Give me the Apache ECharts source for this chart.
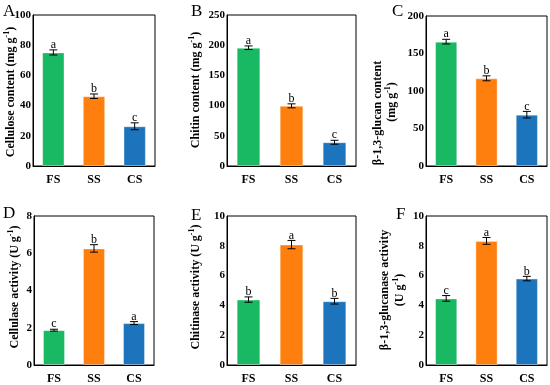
<!DOCTYPE html>
<html><head><meta charset="utf-8">
<script src="https://cdn.jsdelivr.net/npm/echarts@6/dist/echarts.min.js"></script>
<style>html,body{margin:0;padding:0;background:#fff}#c{width:550px;height:385px}</style>
</head><body><div id="c"></div>
<script>
var categories = ['FS', 'SS', 'CS'];
var barColors = ['#19b862', '#ff7f0e', '#1c75bc'];

var celluloseContent = [75.2, 46.2, 26.3];
var celluloseContentErr = [1.7, 1.5, 2.3];
var celluloseContentLetters = ['a', 'b', 'c'];

var chitinContent = [195.8, 99.6, 39.3];
var chitinContentErr = [3, 3.3, 3.3];
var chitinContentLetters = ['a', 'b', 'c'];

var glucanContent = [165.8, 116.9, 68.4];
var glucanContentErr = [3.1, 3.3, 4.4];
var glucanContentLetters = ['a', 'b', 'c'];

var cellulaseActivity = [1.87, 6.26, 2.25];
var cellulaseActivityErr = [0.05, 0.2, 0.08];
var cellulaseActivityLetters = ['c', 'b', 'a'];

var chitinaseActivity = [4.39, 8.08, 4.28];
var chitinaseActivityErr = [0.18, 0.28, 0.19];
var chitinaseActivityLetters = ['b', 'a', 'b'];

var glucanaseActivity = [4.47, 8.33, 5.8];
var glucanaseActivityErr = [0.19, 0.23, 0.15];
var glucanaseActivityLetters = ['c', 'a', 'b'];

var yMax = [100, 250, 200, 8, 10, 10];
var yInterval = [20, 50, 50, 2, 2, 2];

var panels = [
  {v: celluloseContent, e: celluloseContentErr, l: celluloseContentLetters},
  {v: chitinContent, e: chitinContentErr, l: chitinContentLetters},
  {v: glucanContent, e: glucanContentErr, l: glucanContentLetters},
  {v: cellulaseActivity, e: cellulaseActivityErr, l: cellulaseActivityLetters},
  {v: chitinaseActivity, e: chitinaseActivityErr, l: chitinaseActivityLetters},
  {v: glucanaseActivity, e: glucanaseActivityErr, l: glucanaseActivityLetters}
];

var gridPos = [
  {left: 33, top: 15, width: 122, height: 151},
  {left: 227, top: 15, width: 129, height: 151},
  {left: 426, top: 16, width: 121, height: 150},
  {left: 34, top: 216, width: 120, height: 150},
  {left: 227, top: 216, width: 129, height: 151},
  {left: 426, top: 216, width: 121, height: 150}
];

var FONT = 'Liberation Serif';

var grids = [], xAxes = [], yAxes = [], series = [];
panels.forEach(function (p, i) {
  var g = gridPos[i];
  grids.push({left: g.left, top: g.top, width: g.width, height: g.height,
    show: true, borderColor: '#000', borderWidth: 1, backgroundColor: 'transparent'});
  xAxes.push({type: 'category', gridIndex: i, data: categories,
    axisLine: {show: true, lineStyle: {color: '#000', width: 1}},
    axisTick: {show: false},
    axisLabel: {color: '#000', fontFamily: FONT, fontWeight: 'bold', fontSize: 12, margin: 8}});
  yAxes.push({type: 'value', gridIndex: i, min: 0, max: yMax[i], interval: yInterval[i],
    splitLine: {show: false},
    axisLine: {show: true, lineStyle: {color: '#000', width: 1}},
    axisTick: {show: false},
    axisLabel: {color: '#000', fontFamily: FONT, fontWeight: 'bold', fontSize: 11, margin: 2}});
  series.push({type: 'bar', xAxisIndex: i, yAxisIndex: i, barWidth: '55%',
    data: p.v.map(function (v, k) {
      return {value: v, itemStyle: {color: barColors[k], borderColor: 'rgba(255,255,255,0.35)', borderWidth: 1}};
    })});
  series.push({type: 'custom', xAxisIndex: i, yAxisIndex: i, z: 10,
    data: p.v.map(function (v, k) { return [k, v, p.e[k]]; }),
    renderItem: function (params, api) {
      var k = api.value(0), v = api.value(1), e = api.value(2);
      var letter = p.l[params.dataIndex];
      var hi = api.coord([k, v + e]), lo = api.coord([k, v - e]);
      var w = 4;
      var st = {stroke: '#000', lineWidth: 1};
      return {type: 'group', children: [
        {type: 'line', shape: {x1: hi[0], y1: hi[1], x2: lo[0], y2: lo[1]}, style: st},
        {type: 'line', shape: {x1: hi[0] - w, y1: hi[1], x2: hi[0] + w, y2: hi[1]}, style: st},
        {type: 'line', shape: {x1: lo[0] - w, y1: lo[1], x2: lo[0] + w, y2: lo[1]}, style: st},
        {type: 'text', x: hi[0], y: hi[1] + 1, style: {text: letter, fill: '#000',
          font: '12px "' + FONT + '"', textAlign: 'center', textVerticalAlign: 'bottom'}}
      ]};
    }});
});

function ytitle(x, y, main) {
  return {type: 'text', x: x, y: y, rotation: Math.PI / 2,
    style: {text: '{m|' + main + '}{s|-1}{m|)}', fill: '#000', textAlign: 'center', textVerticalAlign: 'middle',
      rich: {
        m: {fontFamily: FONT, fontWeight: 'bold', fontSize: 12, fill: '#000', lineHeight: 14, verticalAlign: 'bottom'},
        s: {fontFamily: FONT, fontWeight: 'bold', fontSize: 8, fill: '#000', lineHeight: 14, verticalAlign: 'top'}
      }}};
}
function ytitlePlain(x, y, t) {
  return {type: 'text', x: x, y: y, rotation: Math.PI / 2,
    style: {text: t, fill: '#000', textAlign: 'center', textVerticalAlign: 'middle',
      font: 'bold 12px "' + FONT + '"'}};
}
function letterG(x, y, t) {
  return {type: 'text', x: x, y: y, style: {text: t, fill: '#000', font: '17px "' + FONT + '"',
    textAlign: 'left', textVerticalAlign: 'top'}};
}

var graphics = [
  letterG(3, 3, 'A'), letterG(191, 3, 'B'), letterG(392, 3, 'C'),
  letterG(3, 205, 'D'), letterG(191, 207, 'E'), letterG(396, 206, 'F'),
  ytitle(10, 92, 'Cellulose content (mg g'),
  ytitle(195, 90, 'Chitin content (mg g'),
  ytitlePlain(378, 113, 'β-1,3-glucan content'),
  ytitle(391, 102, '(mg g'),
  ytitle(14, 287, 'Cellulase activity (U g'),
  ytitle(195, 287, 'Chitinase activity (U g'),
  ytitlePlain(385, 290, 'β-1,3-glucanase activity'),
  ytitle(399, 290, '(U g')
];

var chart = echarts.init(document.getElementById('c'), null, {renderer: 'canvas'});
chart.setOption({
  animation: false,
  backgroundColor: '#fff',
  grid: grids, xAxis: xAxes, yAxis: yAxes, series: series,
  graphic: graphics
});
</script>
</body></html>
